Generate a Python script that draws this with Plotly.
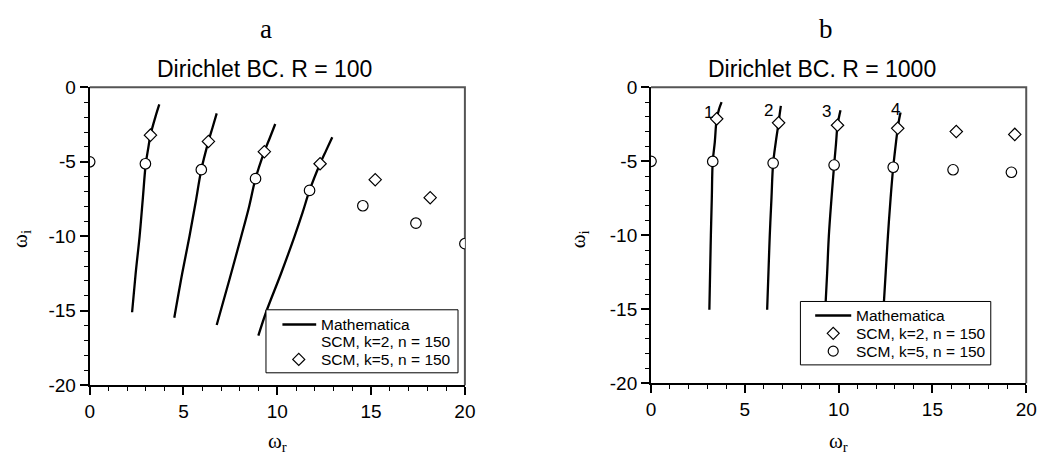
import plotly.graph_objects as go

W, H = 1052, 464

# ---------------- data: R = 100 (panel a) ----------------
a_b1_x = [2.26, 2.45, 2.66, 2.83, 2.99, 3.12, 3.24, 3.50, 3.71]
a_b1_y = [-15.1, -12.5, -10.0, -7.5, -5.13, -4.1, -3.2, -2.0, -1.15]
a_b2_x = [4.51, 4.93, 5.32, 5.65, 5.95, 6.33, 6.55, 6.77]
a_b2_y = [-15.47, -12.5, -10.0, -7.7, -5.53, -3.63, -2.7, -1.75]
a_b3_x = [6.77, 7.45, 8.08, 8.50, 8.84, 9.31, 9.60, 9.89]
a_b3_y = [-15.96, -12.9, -10.0, -8.0, -6.13, -4.32, -3.4, -2.46]
a_b4_x = [8.99, 9.43, 10.2, 10.92, 11.35, 11.72, 12.28, 12.6, 12.93]
a_b4_y = [-16.67, -15.0, -12.5, -10.0, -8.4, -6.92, -5.13, -4.25, -3.35]

a_k2_x = [3.24, 6.33, 9.31, 12.28, 15.22, 18.15]
a_k2_y = [-3.21, -3.63, -4.32, -5.13, -6.2, -7.41]
a_k5_x = [0.0, 2.97, 5.95, 8.84, 11.72, 14.56, 17.39, 20.0]
a_k5_y = [-5.0, -5.13, -5.53, -6.13, -6.92, -7.95, -9.12, -10.5]

# ---------------- data: R = 1000 (panel b) ----------------
b_b1_x = [3.11, 3.15, 3.19, 3.24, 3.29, 3.40, 3.50, 3.62, 3.76]
b_b1_y = [-15.03, -12.5, -10.0, -7.5, -5.01, -3.7, -2.13, -1.5, -1.0]
b_b2_x = [6.19, 6.26, 6.33, 6.42, 6.51, 6.65, 6.80, 6.86, 6.92]
b_b2_y = [-15.03, -12.5, -10.0, -7.5, -5.12, -3.7, -2.4, -1.8, -1.25]
b_b3_x = [9.29, 9.39, 9.48, 9.62, 9.76, 9.86, 9.94, 10.02, 10.1]
b_b3_y = [-15.0, -12.5, -10.0, -7.5, -5.25, -3.8, -2.56, -2.0, -1.55]
b_b4_x = [12.39, 12.51, 12.63, 12.77, 12.91, 13.06, 13.15, 13.22, 13.3]
b_b4_y = [-15.0, -12.5, -10.0, -7.5, -5.4, -3.7, -2.77, -2.2, -1.7]

b_k2_x = [3.5, 6.8, 9.94, 13.15, 16.27, 19.39]
b_k2_y = [-2.13, -2.4, -2.56, -2.77, -2.99, -3.18]
b_k5_x = [0.0, 3.29, 6.51, 9.76, 12.91, 16.1, 19.21]
b_k5_y = [-5.0, -5.01, -5.12, -5.25, -5.4, -5.57, -5.74]

branch_labels = ["1", "2", "3", "4"]
branch_label_x = [3.09, 6.26, 9.36, 13.03]
branch_label_y = [-1.7, -1.57, -1.65, -1.5]

x_tickvals = [0, 5, 10, 15, 20]
x_ticktext = ["0", "5", "10", "15", "20"]
y_tickvals = [0, -5, -10, -15, -20]
y_ticktext = ["0", "-5", "-10", "-15", "-20"]

panel_letters = ["a", "b"]
panel_titles = ["Dirichlet BC. R = 100", "Dirichlet BC. R = 1000"]
legend_a = ["Mathematica", "SCM, k=2, n = 150", "SCM, k=5, n = 150"]
legend_b = ["Mathematica", "SCM, k=2, n = 150", "SCM, k=5, n = 150"]

SANS = "Liberation Sans, Arial, sans-serif"
SERIF = "Liberation Serif, Times New Roman, serif"

def px(x):
    return x / W

def py(y):
    return 1 - y / H

fig = go.Figure()

line_style = dict(color="black", width=2.3)
for xs, ys in [(a_b1_x, a_b1_y), (a_b2_x, a_b2_y), (a_b3_x, a_b3_y), (a_b4_x, a_b4_y)]:
    fig.add_trace(go.Scatter(x=xs, y=ys, mode="lines", line=line_style,
                             line_shape="spline", xaxis="x", yaxis="y", showlegend=False))
for xs, ys in [(b_b1_x, b_b1_y), (b_b2_x, b_b2_y), (b_b3_x, b_b3_y), (b_b4_x, b_b4_y)]:
    fig.add_trace(go.Scatter(x=xs, y=ys, mode="lines", line=line_style,
                             line_shape="spline", xaxis="x2", yaxis="y2", showlegend=False))

circ = dict(symbol="circle", size=10.5, color="white", line=dict(color="black", width=1.2))
diam = dict(symbol="diamond", size=9.5, color="white", line=dict(color="black", width=1.2))
fig.add_trace(go.Scatter(x=a_k5_x, y=a_k5_y, mode="markers", marker=circ, xaxis="x", yaxis="y", showlegend=False))
fig.add_trace(go.Scatter(x=a_k2_x, y=a_k2_y, mode="markers", marker=diam, xaxis="x", yaxis="y", showlegend=False))
fig.add_trace(go.Scatter(x=b_k5_x, y=b_k5_y, mode="markers", marker=circ, xaxis="x2", yaxis="y2", showlegend=False))
fig.add_trace(go.Scatter(x=b_k2_x, y=b_k2_y, mode="markers", marker=diam, xaxis="x2", yaxis="y2", showlegend=False))

tickfont = dict(family=SANS, size=19, color="black")
def xax(domain, anchor):
    return dict(domain=domain, anchor=anchor, range=[0, 20],
                tickmode="array", tickvals=x_tickvals, ticktext=x_ticktext,
                ticks="outside", ticklen=8, tickwidth=1.5, tickcolor="black",
                showline=True, linecolor="black", linewidth=2, showgrid=False, zeroline=False,
                tickfont=tickfont,
                minor=dict(tickmode="linear", tick0=0, dtick=1, ticks="outside", ticklen=4,
                           tickwidth=1.2, tickcolor="black"))
def yax(domain, anchor):
    return dict(domain=domain, anchor=anchor, range=[-20, 0],
                tickmode="array", tickvals=y_tickvals, ticktext=y_ticktext,
                ticks="outside", ticklen=8, tickwidth=1.5, tickcolor="black",
                showline=True, linecolor="black", linewidth=2, showgrid=False, zeroline=False,
                tickfont=tickfont,
                minor=dict(tickmode="linear", tick0=0, dtick=1, ticks="outside", ticklen=4,
                           tickwidth=1.2, tickcolor="black"))

fig.update_layout(
    width=W, height=H, margin=dict(l=0, r=0, t=0, b=0),
    paper_bgcolor="white", plot_bgcolor="white", showlegend=False,
    xaxis=xax([px(86), px(467)], "y"),
    yaxis=yax([py(393), py(81)], "x"),
    xaxis2=xax([px(656), px(1037)], "y2"),
    yaxis2=yax([py(391), py(81)], "x2"),
)

shapes = []
# gray top/right frame
for xr, yr in [("x domain", "y domain"), ("x2 domain", "y2 domain")]:
    shapes.append(dict(type="path", xref=xr, yref=yr, path="M 0,1 L 1,1 L 1,0",
                       line=dict(color="#555555", width=2), layer="below"))

ann = []
# panel letters and titles
for letter, title, cx_l, cx_t in zip(panel_letters, panel_titles, [265, 834], [264, 830]):
    ann.append(dict(text=letter, x=px(cx_l), y=py(20), xref="paper", yref="paper", showarrow=False,
                    xanchor="center", yanchor="middle", font=dict(family=SERIF, size=27, color="black")))
    ann.append(dict(text=title, x=px(cx_t), y=py(62), xref="paper", yref="paper", showarrow=False,
                    xanchor="center", yanchor="middle", font=dict(family=SANS, size=23, color="black")))
# axis titles
for cx in [277, 846]:
    ann.append(dict(text="ω<sub>r</sub>", x=px(cx), y=py(452), xref="paper", yref="paper", showarrow=False,
                    xanchor="center", yanchor="middle", font=dict(family=SERIF, size=21, color="black")))
for cx, cy in [(16, 240), (583, 240)]:
    ann.append(dict(text="ω<sub>i</sub>", x=px(cx), y=py(cy), xref="paper", yref="paper", showarrow=False,
                    textangle=-90, xanchor="center", yanchor="middle",
                    font=dict(family=SERIF, size=21, color="black")))
# branch numbers
for t, lx, ly in zip(branch_labels, branch_label_x, branch_label_y):
    ann.append(dict(text=t, x=lx, y=ly, xref="x2", yref="y2", showarrow=False,
                    xanchor="center", yanchor="middle", font=dict(family=SANS, size=17, color="black")))

# legends (drawn manually)
def legend(box, line_seg, text_x, rows, labels, markers):
    x0, x1, y0, y1 = box
    shapes.append(dict(type="rect", xref="paper", yref="paper", x0=px(x0), x1=px(x1), y0=py(y1), y1=py(y0),
                       line=dict(color="black", width=1), fillcolor="white", layer="above"))
    lx0, lx1, mx = line_seg
    shapes.append(dict(type="line", xref="paper", yref="paper", x0=px(lx0), x1=px(lx1),
                       y0=py(rows[0]), y1=py(rows[0]), line=dict(color="black", width=2.5), layer="above"))
    for ry, m in zip(rows[1:], markers):
        if m == "diamond":
            shapes.append(dict(type="path", xref="paper", yref="paper", xsizemode="pixel", ysizemode="pixel",
                               xanchor=px(mx), yanchor=py(ry), path="M -6,0 L 0,6 L 6,0 L 0,-6 Z",
                               line=dict(color="black", width=1.2), fillcolor="white", layer="above"))
        elif m == "circle":
            shapes.append(dict(type="circle", xref="paper", yref="paper", xsizemode="pixel", ysizemode="pixel",
                               xanchor=px(mx), yanchor=py(ry), x0=-5, x1=5, y0=-5, y1=5,
                               line=dict(color="black", width=1.2), fillcolor="white", layer="above"))
    for ry, lab in zip(rows, labels):
        ann.append(dict(text=lab, x=px(text_x), y=py(ry), xref="paper", yref="paper", showarrow=False,
                        xanchor="left", yanchor="middle", font=dict(family=SANS, size=15.5, color="black")))

legend((265, 460, 314, 380), (281.7, 316, 298.3), 319.3, [329.3, 347.3, 366], legend_a, [None, "diamond"])
legend((807.7, 1001, 305.3, 371.7), (822.7, 859.3, 841), 862, [320, 338.7, 357.3], legend_b, ["diamond", "circle"])

fig.update_layout(shapes=shapes, annotations=ann)
fig.write_html("out.html")
